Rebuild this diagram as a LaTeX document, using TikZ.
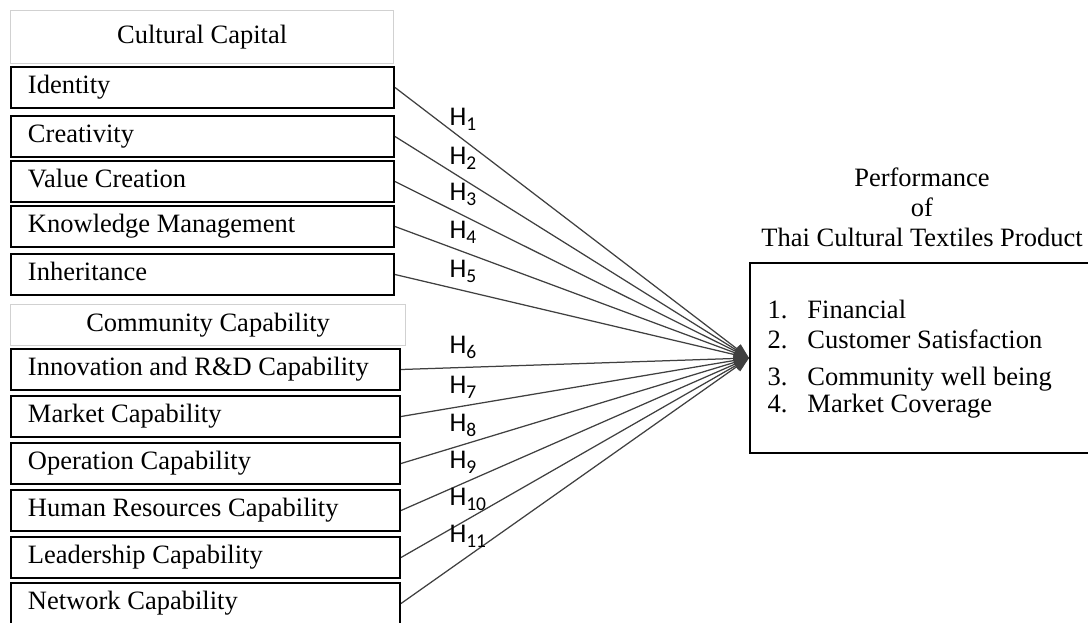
\documentclass[tikz,border=0pt]{standalone}
\usepackage{fontspec}
\setmainfont{Liberation Serif}
\newfontfamily\calibri{Carlito}
\usetikzlibrary{arrows.meta,positioning}
\definecolor{linegray}{HTML}{404040}
\newcommand\hsub[1]{H\raisebox{-2pt}{\fontsize{7.8pt}{8pt}\selectfont #1}}

\begin{document}
\begin{tikzpicture}[
          x=0.4pt, y=-0.4pt,
          every node/.style={font=\fontsize{10.6pt}{12pt}\selectfont},
          head/.style={draw=black!18, line width=0.5pt, anchor=north west, inner sep=0pt},
          cult/.style={draw, line width=0.8pt, anchor=north west, minimum height=16.4pt, inner xsep=6.8pt, inner ysep=0pt, text width=139.6pt, align=flush left, text height=7.4pt, text depth=2.4pt},
          comm/.style={cult, text width=142pt},
          perfbox/.style={draw, line width=0.8pt, anchor=north west, minimum width=140.4pt, minimum height=76pt, inner sep=0pt},
          item/.style={anchor=base west, inner sep=0pt},
          hlab/.style={font=\calibri\fontsize{10.8pt}{12pt}\selectfont, anchor=base west, inner sep=0pt},
          conn/.style={linegray, line width=0.5pt, -{Triangle[length=6pt,width=4.6pt]}}
      ]
        \useasboundingbox (0,0) rectangle (1088,622);

        % cultural capital
        \node[head, minimum width=153.2pt, minimum height=21.2pt] (culthead) at (10,10) {Cultural Capital};
        \node[cult] (identity) at (10,66) {Identity};
        \node[cult] (creativity) at (10,115) {Creativity};
        \node[cult] (valuecr) at (10,160) {Value Creation};
        \node[cult] (knowledge) at (10,205) {Knowledge Management};
        \node[cult] (inherit) at (10,253) {Inheritance};

        % community capability
        \node[head, minimum width=158pt, minimum height=16.4pt] (commhead) at (10,304) {Community Capability};
        \node[comm] (innov) at (10,348) {Innovation and R\&D Capability};
        \node[comm] (market) at (10,395) {Market Capability};
        \node[comm] (operation) at (10,442) {Operation Capability};
        \node[comm] (human) at (10,489) {Human Resources Capability};
        \node[comm] (leader) at (10,536) {Leadership Capability};
        \node[comm] (network) at (10,582) {Network Capability};

        % performance
        \node[align=center] (ptitle) at (922,207) {Performance\\of\\Thai Cultural Textiles Product};
        \node[perfbox] (perf) at (749,262) {};
        \node[item] (fin) at (767,318) {\makebox[16pt][l]{1.}Financial};
        \node[item] (cust) at (767,348) {\makebox[16pt][l]{2.}Customer Satisfaction};
        \node[item] (wellb) at (767,385) {\makebox[16pt][l]{3.}Community well being};
        \node[item] (cover) at (767,412) {\makebox[16pt][l]{4.}Market Coverage};

        \draw[conn] (identity.east) -- (perf.west);
        \draw[conn] (creativity.east) -- (perf.west);
        \draw[conn] (valuecr.east) -- (perf.west);
        \draw[conn] (knowledge.east) -- (perf.west);
        \draw[conn] (inherit.east) -- (perf.west);
        \draw[conn] (innov.east) -- (perf.west);
        \draw[conn] (market.east) -- (perf.west);
        \draw[conn] (operation.east) -- (perf.west);
        \draw[conn] (human.east) -- (perf.west);
        \draw[conn] (leader.east) -- (perf.west);
        \draw[conn] (network.east) -- (perf.west);

        \node[hlab] (hyp1) at (449,125) {\hsub{1}};
        \node[hlab] (hyp2) at (449,164) {\hsub{2}};
        \node[hlab] (hyp3) at (449,200) {\hsub{3}};
        \node[hlab] (hyp4) at (449,238) {\hsub{4}};
        \node[hlab] (hyp5) at (449,277) {\hsub{5}};
        \node[hlab] (hyp6) at (449,353) {\hsub{6}};
        \node[hlab] (hyp7) at (449,393) {\hsub{7}};
        \node[hlab] (hyp8) at (449,431) {\hsub{8}};
        \node[hlab] (hyp9) at (449,468) {\hsub{9}};
        \node[hlab] (hyp10) at (449,505) {\hsub{10}};
        \node[hlab] (hyp11) at (449,542) {\hsub{11}};
      \end{tikzpicture}
\end{document}
